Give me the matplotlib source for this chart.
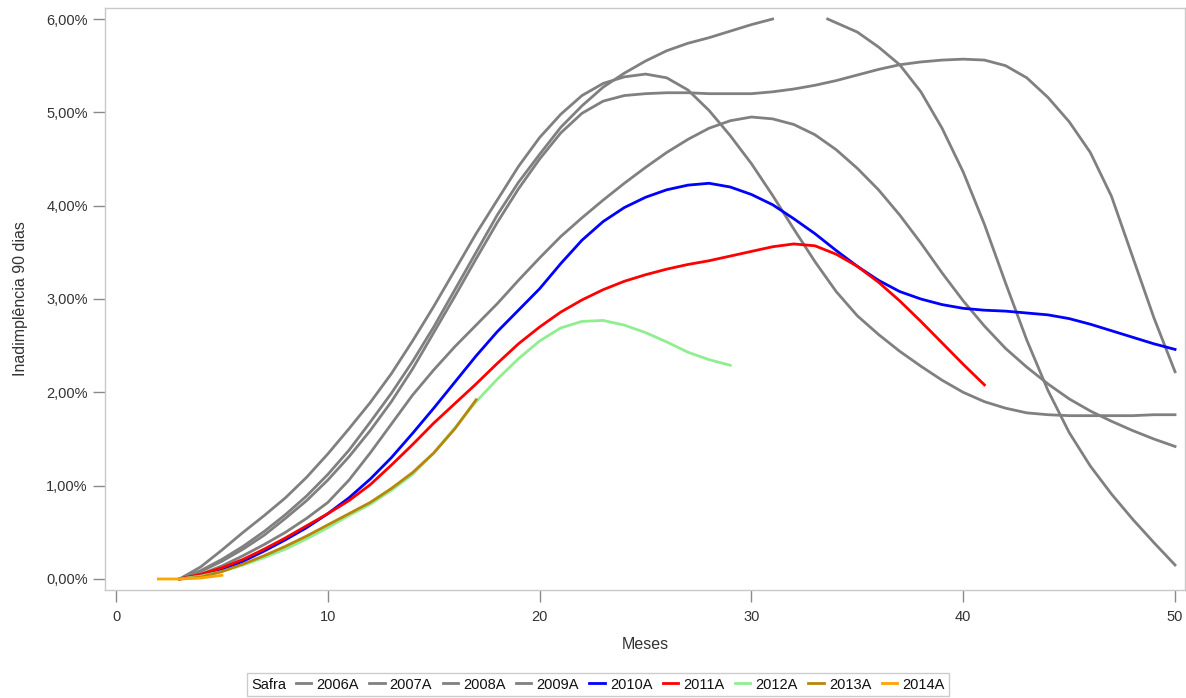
import numpy as np
import matplotlib
matplotlib.use("Agg")
import matplotlib.pyplot as plt
from matplotlib.ticker import FuncFormatter
from matplotlib.offsetbox import HPacker

plt.rcParams['font.family'] = ['Liberation Sans', 'DejaVu Sans']

# months (Meses) and default rate in % (Inadimplência 90 dias)
months_old = list(range(3, 51))
s2006 = [0.00, 0.13, 0.31, 0.50, 0.68, 0.87, 1.09, 1.34, 1.61, 1.89, 2.20, 2.55, 2.92,
         3.31, 3.70, 4.06, 4.42, 4.73, 4.98, 5.18, 5.31, 5.38, 5.41, 5.37, 5.24, 5.02,
         4.75, 4.45, 4.11, 3.75, 3.40, 3.08, 2.82, 2.62, 2.44, 2.28, 2.13, 2.00, 1.90,
         1.83, 1.78, 1.76, 1.75, 1.75, 1.75, 1.75, 1.76, 1.76]
# 2007A goes above the 6% axis maximum between months 31 and 33.6
months_2007 = list(range(3, 34)) + [33.6] + list(range(34, 51))
s2007 = [0.00, 0.09, 0.21, 0.35, 0.51, 0.69, 0.89, 1.12, 1.38, 1.68, 1.99, 2.33, 2.70,
         3.10, 3.50, 3.90, 4.25, 4.55, 4.84, 5.07, 5.27, 5.42, 5.55, 5.66, 5.74, 5.80,
         5.87, 5.94, 6.00, 6.05, 6.04, 6.00, 5.96, 5.86, 5.70, 5.51, 5.22, 4.83, 4.36,
         3.80, 3.17, 2.56, 2.02, 1.57, 1.21, 0.91, 0.64, 0.39, 0.15]
s2008 = [0.00, 0.08, 0.19, 0.32, 0.47, 0.65, 0.84, 1.06, 1.31, 1.59, 1.90, 2.25, 2.64,
         3.03, 3.43, 3.82, 4.18, 4.50, 4.78, 4.99, 5.12, 5.18, 5.20, 5.21, 5.21, 5.20,
         5.20, 5.20, 5.22, 5.25, 5.29, 5.34, 5.40, 5.46, 5.51, 5.54, 5.56, 5.57, 5.56,
         5.50, 5.37, 5.16, 4.90, 4.57, 4.10, 3.45, 2.80, 2.22]
s2009 = [0.00, 0.05, 0.14, 0.25, 0.37, 0.50, 0.65, 0.82, 1.06, 1.35, 1.66, 1.97, 2.24,
         2.49, 2.72, 2.95, 3.20, 3.44, 3.67, 3.87, 4.06, 4.24, 4.41, 4.57, 4.71, 4.83,
         4.91, 4.95, 4.93, 4.87, 4.76, 4.60, 4.40, 4.17, 3.90, 3.60, 3.28, 2.98, 2.71,
         2.47, 2.27, 2.09, 1.93, 1.80, 1.69, 1.59, 1.50, 1.42]
s2010 = [0.00, 0.04, 0.10, 0.19, 0.30, 0.42, 0.55, 0.70, 0.87, 1.07, 1.30, 1.56, 1.83,
         2.11, 2.39, 2.65, 2.88, 3.11, 3.38, 3.63, 3.83, 3.98, 4.09, 4.17, 4.22, 4.24,
         4.20, 4.12, 4.01, 3.86, 3.70, 3.52, 3.35, 3.20, 3.08, 3.00, 2.94, 2.90, 2.88,
         2.87, 2.85, 2.83, 2.79, 2.73, 2.66, 2.59, 2.52, 2.46]
months_2011 = list(range(3, 42))
s2011 = [0.00, 0.05, 0.12, 0.21, 0.32, 0.44, 0.57, 0.70, 0.84, 1.01, 1.22, 1.44, 1.67,
         1.88, 2.09, 2.31, 2.52, 2.70, 2.86, 2.99, 3.10, 3.19, 3.26, 3.32, 3.37, 3.41,
         3.46, 3.51, 3.56, 3.59, 3.57, 3.48, 3.35, 3.18, 2.98, 2.76, 2.53, 2.30, 2.08]
months_2012 = list(range(3, 30))
s2012 = [0.00, 0.03, 0.08, 0.15, 0.23, 0.32, 0.43, 0.55, 0.68, 0.80, 0.95, 1.12, 1.35,
         1.62, 1.90, 2.14, 2.36, 2.55, 2.69, 2.76, 2.77, 2.72, 2.64, 2.54, 2.43, 2.35, 2.29]
months_2013 = list(range(3, 18))
s2013 = [0.00, 0.02, 0.08, 0.16, 0.25, 0.35, 0.46, 0.58, 0.70, 0.82, 0.97, 1.14, 1.35,
         1.61, 1.92]
months_2014 = [2, 3, 4, 5]
s2014 = [0.00, 0.00, 0.01, 0.04]

series = [
    ("2006A", months_old, s2006, "#808080"),
    ("2007A", months_2007, s2007, "#808080"),
    ("2008A", months_old, s2008, "#808080"),
    ("2009A", months_old, s2009, "#808080"),
    ("2010A", months_old, s2010, "#0000FF"),
    ("2011A", months_2011, s2011, "#FF0000"),
    ("2012A", months_2012, s2012, "#90EE90"),
    ("2013A", months_2013, s2013, "#B8860B"),
    ("2014A", months_2014, s2014, "#FFA500"),
]

fig = plt.figure(figsize=(11.86, 6.98), dpi=100)
ax = fig.add_axes([105 / 1186, 1 - 590 / 698, 1080 / 1186, 582 / 698])

handles = []
for name, x, y, col in series:
    # axis max is 6%, values above it are not drawn
    yv = np.ma.masked_greater(np.array(y), 6.0)
    ln, = ax.plot(x, yv, color=col, lw=2.0, label=name)
    handles.append(ln)

ax.set_xlim(-0.52, 50.47)
ax.set_ylim(-0.118, 6.118)
ax.set_xticks([0, 10, 20, 30, 40, 50])
ax.set_yticks([0, 1, 2, 3, 4, 5, 6])
ax.yaxis.set_major_formatter(FuncFormatter(lambda v, p: f"{v:.2f}%".replace('.', ',')))

for s in ax.spines.values():
    s.set_color('#c8c8c8')
    s.set_linewidth(1.0)
ax.tick_params(axis='both', direction='out', length=8.5, width=1, color='#8a8a8a',
               labelsize=10.5, labelcolor='#333333', pad=4)
ax.tick_params(axis='x', pad=6)

ax.set_xlabel("Meses", fontsize=11.5, color='#333333', labelpad=9)
ax.set_ylabel("Inadimplência 90 dias", fontsize=11.5, color='#333333', labelpad=13)

leg = fig.legend(handles=handles, title="Safra", loc='center',
                 bbox_to_anchor=(0.504, 0.0193), ncol=9, frameon=True, fancybox=False,
                 fontsize=10.5, title_fontsize=10.5, handlelength=1.05,
                 handletextpad=0.35, columnspacing=0.72, borderpad=0.3)
leg.get_frame().set_edgecolor('#c0c0c0')
leg.get_frame().set_linewidth(1.0)
for t in leg.get_texts():
    t.set_color('#111111')
leg.get_title().set_color('#111111')
# put the title "Safra" on the left of the entries
leg._legend_box.__class__ = HPacker
leg._legend_box.sep = 7
leg._legend_box.align = 'center'

fig.savefig("out.png", dpi=100)
